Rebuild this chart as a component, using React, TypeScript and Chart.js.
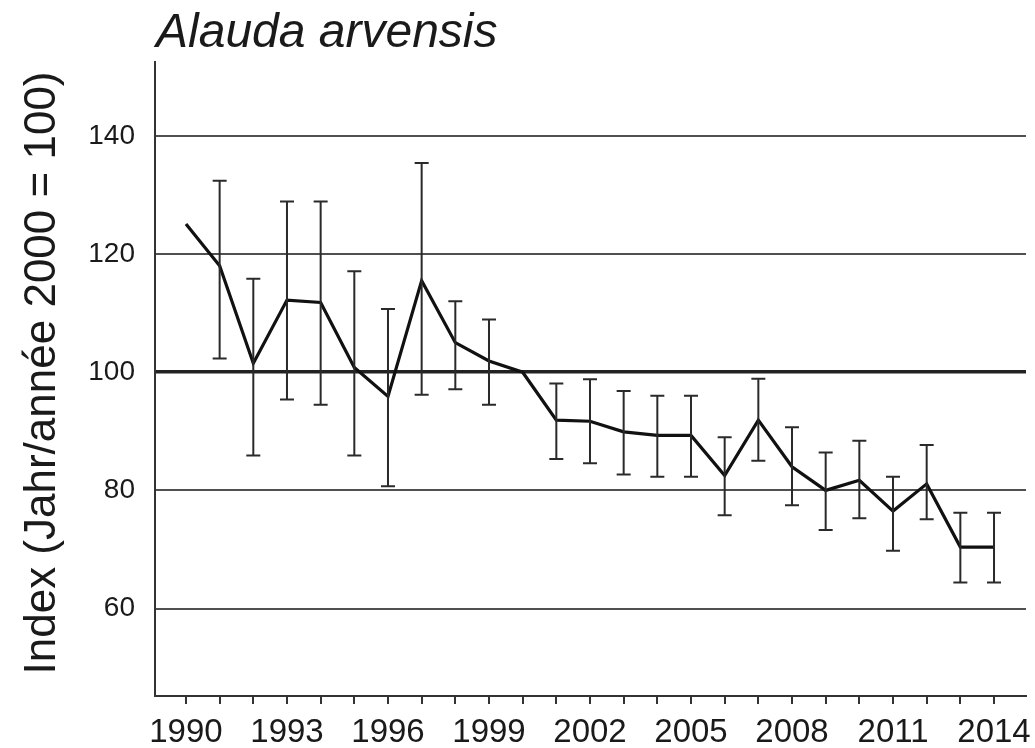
import React, { useEffect, useRef } from "react";
import { Chart, registerables } from "chart.js";

Chart.register(...registerables);

const titleText = "Alauda arvensis";
const yAxisTitle = "Index (Jahr/année 2000 = 100)";
const years = [1990, 1991, 1992, 1993, 1994, 1995, 1996, 1997, 1998, 1999, 2000, 2001, 2002, 2003, 2004, 2005, 2006, 2007, 2008, 2009, 2010, 2011, 2012, 2013, 2014];
const indexValues = [125.1, 118, 101.5, 112.2, 111.8, 100.8, 95.9, 115.5, 105, 101.9, 100, 91.9, 91.7, 89.9, 89.3, 89.3, 82.5, 91.9, 84, 80, 81.7, 76.5, 81.1, 70.4, 70.4];
const upperValues = [null, 132.4, 115.8, 128.9, 128.9, 117.1, 110.7, 135.4, 112, 108.9, null, 98.1, 98.8, 96.8, 96, 96, 89, 98.9, 90.7, 86.4, 88.4, 82.3, 87.7, 76.2, 76.2];
const lowerValues = [null, 102.3, 85.9, 95.4, 94.5, 85.9, 80.7, 96.2, 97.1, 94.5, null, 85.3, 84.6, 82.7, 82.3, 82.3, 75.8, 85, 77.5, 73.3, 75.3, 69.8, 75.1, 64.4, 64.4];
const yTickValues = [60, 80, 100, 120, 140];
const xLabelStep = 3;

const errorBarPlugin = {
  id: "errorBars",
  afterDatasetsDraw(chart: any) {
    const { ctx, scales } = chart;
    const xs = scales.x;
    const ys = scales.y;
    ctx.save();
    ctx.strokeStyle = "#2a2a2a";
    ctx.lineWidth = 2;
    years.forEach((yr, i) => {
      const lo = lowerValues[i];
      const hi = upperValues[i];
      if (lo == null || hi == null) return;
      const x = xs.getPixelForValue(yr);
      const yl = ys.getPixelForValue(lo);
      const yh = ys.getPixelForValue(hi);
      ctx.beginPath();
      ctx.moveTo(x, yl);
      ctx.lineTo(x, yh);
      ctx.moveTo(x - 7, yl);
      ctx.lineTo(x + 7, yl);
      ctx.moveTo(x - 7, yh);
      ctx.lineTo(x + 7, yh);
      ctx.stroke();
    });
    ctx.restore();
  },
};

const textPlugin = {
  id: "customTexts",
  afterDraw(chart: any) {
    const { ctx, chartArea } = chart;
    ctx.save();
    ctx.fillStyle = "#1a1a1a";
    ctx.font = "italic 48px 'Liberation Sans', Arial, sans-serif";
    ctx.textBaseline = "alphabetic";
    ctx.textAlign = "left";
    ctx.fillText(titleText, chartArea.left + 1, 47);
    ctx.translate(55, 373);
    ctx.rotate(-Math.PI / 2);
    ctx.font = "44px 'Liberation Sans', Arial, sans-serif";
    ctx.textAlign = "center";
    ctx.fillText(yAxisTitle, 0, 0);
    ctx.restore();
  },
};

export default function App() {
  const canvasRef = useRef<HTMLCanvasElement | null>(null);

  useEffect(() => {
    document.body.style.margin = "0";
    const canvas = canvasRef.current;
    if (!canvas) return;
    const chart = new Chart(canvas, {
      type: "line",
      data: {
        datasets: [
          {
            label: "Index",
            data: years.map((yr, i) => ({ x: yr, y: indexValues[i] })),
            borderColor: "#111111",
            borderWidth: 3.2,
            pointRadius: 0,
            tension: 0,
            fill: false,
          },
        ],
      },
      options: {
        animation: false,
        responsive: false,
        devicePixelRatio: 1,
        layout: { padding: { left: 0, right: 9, top: 62, bottom: 0 } },
        plugins: {
          legend: { display: false },
          tooltip: { enabled: false },
          title: { display: false },
        },
        scales: {
          x: {
            type: "linear",
            min: 1989.08,
            max: 2014.95,
            afterBuildTicks: (scale: any) => {
              scale.ticks = years.map((v) => ({ value: v }));
            },
            afterFit: (scale: any) => {
              scale.height = 52;
              scale.paddingLeft = 0;
              scale.paddingRight = 0;
            },
            grid: {
              display: true,
              drawOnChartArea: false,
              drawTicks: true,
              tickLength: 8,
              color: "#333333",
              lineWidth: 2,
            },
            border: { display: true, color: "#333333", width: 2 },
            ticks: {
              autoSkip: false,
              maxRotation: 0,
              minRotation: 0,
              padding: 9,
              color: "#1a1a1a",
              font: { family: "'Liberation Sans Narrow', 'Liberation Sans', Arial, sans-serif", size: 33 },
              callback: (value: any) => ((Number(value) - years[0]) % xLabelStep === 0 ? String(value) : ""),
            },
          },
          y: {
            type: "linear",
            min: 45.2,
            max: 152.5,
            afterBuildTicks: (scale: any) => {
              scale.ticks = yTickValues.map((v) => ({ value: v }));
            },
            afterFit: (scale: any) => {
              scale.width = 155;
              scale.paddingTop = 0;
              scale.paddingBottom = 0;
            },
            grid: {
              display: true,
              drawOnChartArea: true,
              drawTicks: false,
              color: (c: any) => (c.tick && c.tick.value === 100 ? "#222222" : "#505050"),
              lineWidth: (c: any) => (c.tick && c.tick.value === 100 ? 3.5 : 2),
            },
            border: { display: true, color: "#333333", width: 2 },
            ticks: {
              padding: 20,
              color: "#1a1a1a",
              font: { family: "'Liberation Sans', Arial, sans-serif", size: 28 },
            },
          },
        },
      },
      plugins: [errorBarPlugin, textPlugin],
    });
    return () => chart.destroy();
  }, []);

  return (
    <div style={{ width: 1035, height: 748, background: "#ffffff" }}>
      <canvas ref={canvasRef} width={1035} height={748} style={{ display: "block" }} />
    </div>
  );
}
